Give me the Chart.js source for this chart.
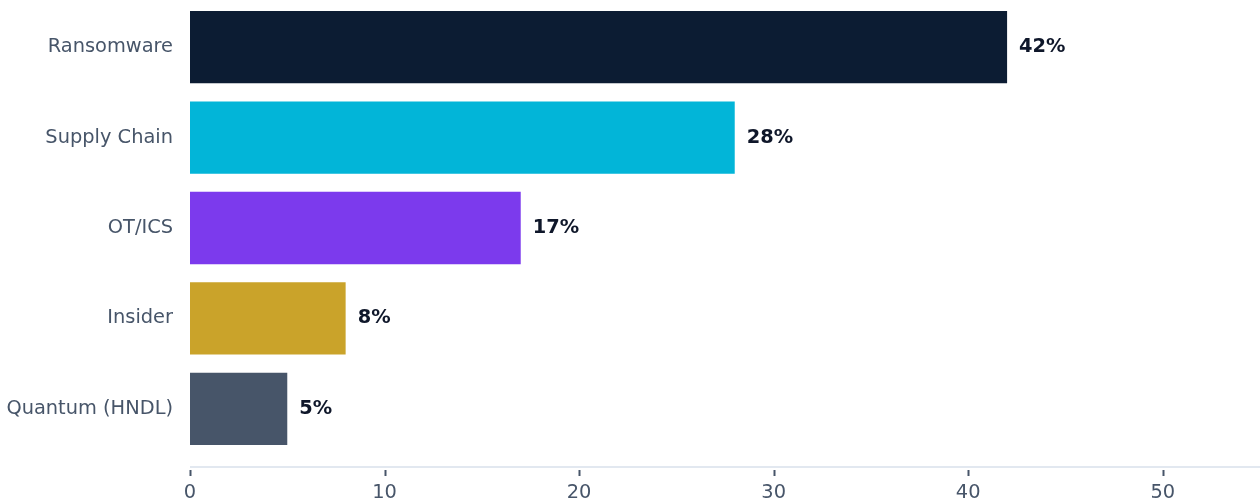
<!DOCTYPE html>
<html>
<head>
<meta charset="utf-8">
<script src="https://cdn.jsdelivr.net/npm/chart.js@4/dist/chart.umd.min.js"></script>
<style>
  body { margin: 0; background: #fff; }
  #wrap { width: 1260px; height: 501px; position: relative; }
</style>
</head>
<body>
<div id="wrap"><canvas id="grafica"></canvas></div>
<script>
// datos del grafico
var categorias = ["Ransomware", "Supply Chain", "OT/ICS", "Insider", "Quantum (HNDL)"];
var valores = [42, 28, 17, 8, 5];
var etiquetas = ["42%", "28%", "17%", "8%", "5%"];
var colores = ["#0c1c33", "#02b5d8", "#7c3aed", "#caa32a", "#475569"];
var ticksX = [0, 10, 20, 30, 40, 50];

var fuente = "'DejaVu Sans', sans-serif";
var tamFuente = 19.4;

// etiquetas al final de cada barra
const etiquetasBarras = {
  id: "etiquetasBarras",
  afterDatasetsDraw(chart) {
    const ctx = chart.ctx;
    const meta = chart.getDatasetMeta(0);
    ctx.save();
    ctx.font = "bold " + tamFuente + "px " + fuente;
    ctx.fillStyle = "#0f172a";
    ctx.textAlign = "left";
    ctx.textBaseline = "middle";
    meta.data.forEach(function (bar, i) {
      ctx.fillText(etiquetas[i], bar.x + 12, bar.y);
    });
    ctx.restore();
  }
};

// linea del eje x separada del area y marcas
const ejeX = {
  id: "ejeX",
  afterDraw(chart) {
    const ctx = chart.ctx;
    const area = chart.chartArea;
    const x = chart.scales.x;
    const yLinea = area.bottom + 13;
    ctx.save();
    ctx.strokeStyle = "#e2e8f0";
    ctx.lineWidth = 2;
    ctx.beginPath();
    ctx.moveTo(area.left, yLinea);
    ctx.lineTo(area.right, yLinea);
    ctx.stroke();
    ctx.strokeStyle = "#475569";
    ctx.lineWidth = 2;
    ticksX.forEach(function (t) {
      const px = Math.round(x.getPixelForValue(t)) + 0.5;
      ctx.beginPath();
      ctx.moveTo(px, yLinea + 3);
      ctx.lineTo(px, yLinea + 9);
      ctx.stroke();
    });
    ctx.restore();
  }
};

new Chart(document.getElementById("grafica"), {
  type: "bar",
  data: {
    labels: categorias,
    datasets: [{
      data: valores,
      backgroundColor: colores,
      borderWidth: 0,
      barPercentage: 0.8,
      categoryPercentage: 1
    }]
  },
  options: {
    indexAxis: "y",
    responsive: true,
    maintainAspectRatio: false,
    animation: false,
    layout: { padding: { top: 2, right: 0, bottom: 0, left: 0 } },
    plugins: {
      legend: { display: false },
      tooltip: { enabled: false }
    },
    scales: {
      x: {
        min: 0,
        max: 55,
        afterBuildTicks: function (axis) {
          axis.ticks = ticksX.map(function (v) { return { value: v }; });
        },
        afterFit: function (scale) {
          scale.height = 47;
          scale.paddingLeft = 0;
          scale.paddingRight = 0;
        },
        grid: { display: false, drawTicks: false },
        border: { display: false },
        ticks: {
          color: "#475569",
          font: { family: fuente, size: tamFuente },
          padding: 27,
          maxRotation: 0
        }
      },
      y: {
        afterFit: function (scale) {
          scale.paddingTop = 0;
          scale.paddingBottom = 0;
          scale.width = 190;
        },
        grid: { display: false, drawTicks: false },
        border: { display: false },
        ticks: {
          color: "#475569",
          font: { family: fuente, size: tamFuente },
          padding: 17
        }
      }
    }
  },
  plugins: [etiquetasBarras, ejeX]
});
</script>
</body>
</html>
